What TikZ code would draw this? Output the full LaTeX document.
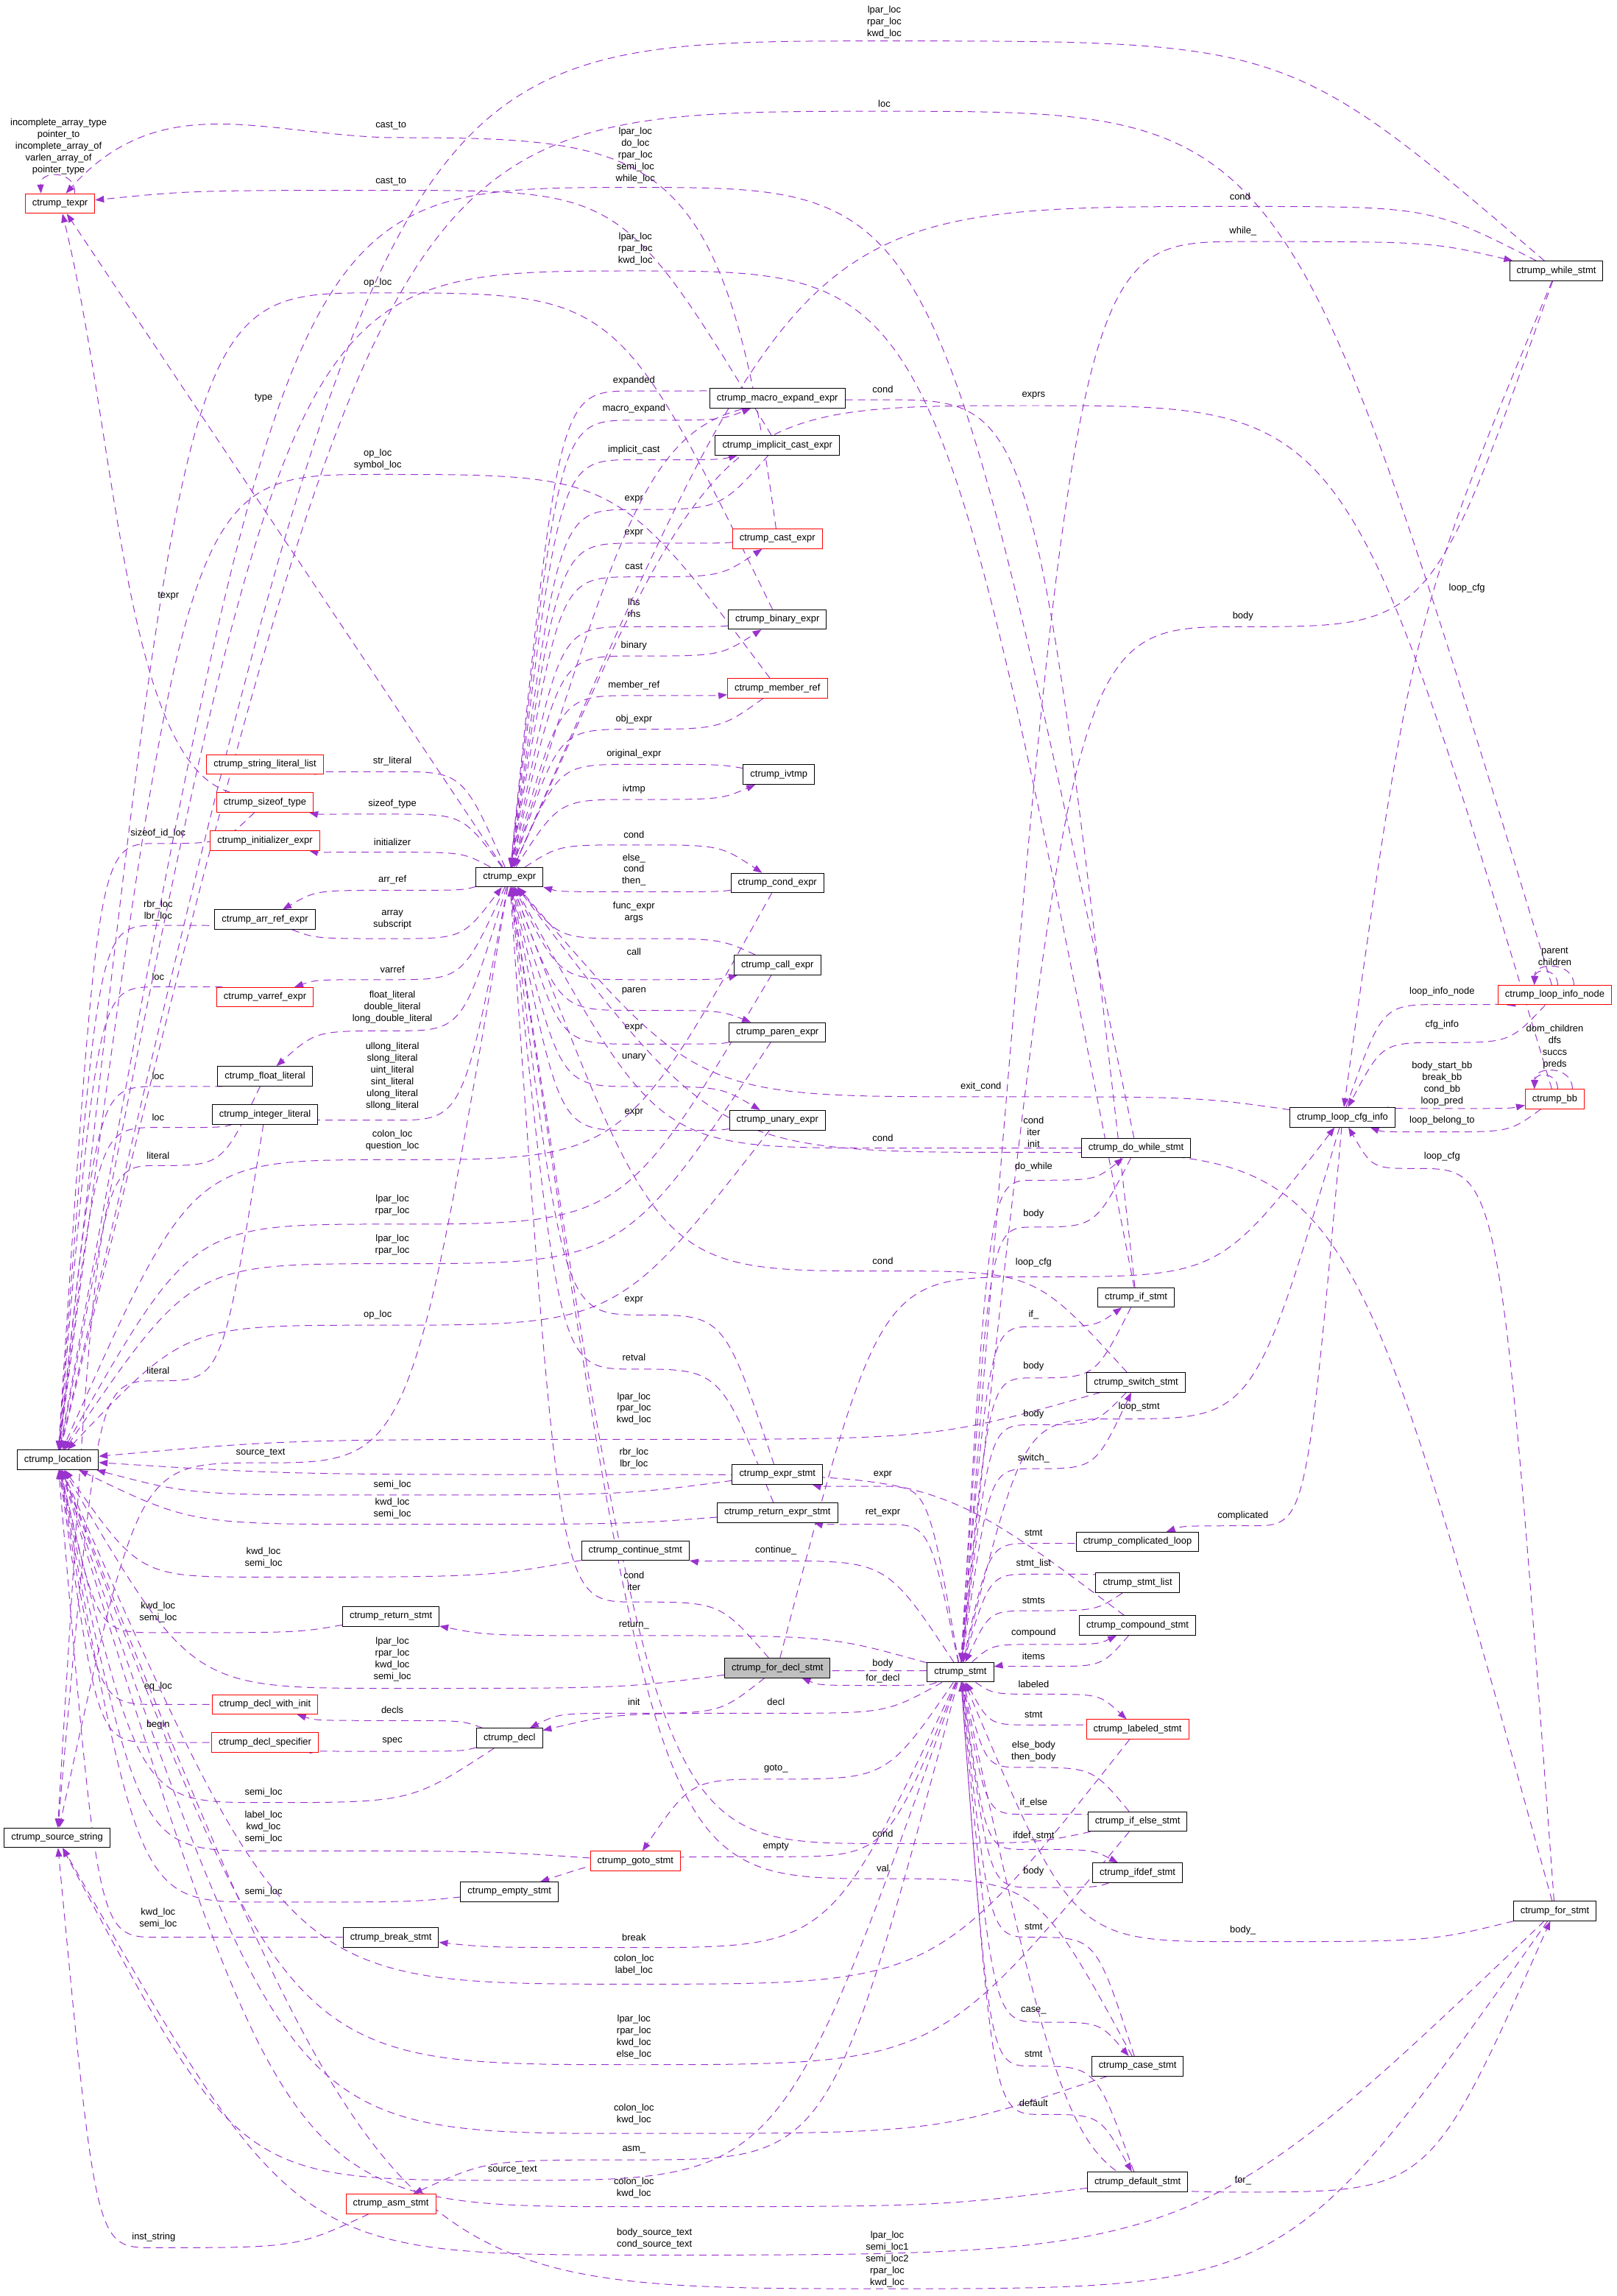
\documentclass[tikz,border=0pt]{standalone}
\usepackage{fontspec}
\setmainfont{Liberation Sans}
\usetikzlibrary{arrows.meta,calc,backgrounds}
\definecolor{edgepurple}{RGB}{154,50,205}
\tikzset{
  cls/.style={draw=black, fill=white, line width=0.5pt, font=\fontsize{6.5}{8}\selectfont,
    inner xsep=4.8pt, inner ysep=0pt, minimum height=13.4pt},
  redcls/.style={cls, draw=red},
  lbl/.style={font=\fontsize{6.5}{8}\selectfont, align=center, inner sep=0pt},
  link/.style={draw=edgepurple, line width=0.5pt, dash pattern=on 5pt off 3.5pt,
    -{Triangle[length=6pt,width=4.5pt]}}
}
\begin{document}
\begin{tikzpicture}[x=1pt, y=-1pt]
  \useasboundingbox (0,0) rectangle (1104,1568);

  % left column
  \node[redcls] (texpr) at (41,139) {ctrump\_texpr};
  \node[cls] (location) at (39.5,997) {ctrump\_location};
  \node[cls] (source) at (39,1255) {ctrump\_source\_string};
  \node[redcls] (strlit) at (181,522) {ctrump\_string\_literal\_list};
  \node[redcls] (sizeof) at (181,548) {ctrump\_sizeof\_type};
  \node[redcls] (initexpr) at (181,574) {ctrump\_initializer\_expr};
  \node[cls] (arrref) at (181,628) {ctrump\_arr\_ref\_expr};
  \node[redcls] (varref) at (181,681) {ctrump\_varref\_expr};
  \node[cls] (floatlit) at (181,735) {ctrump\_float\_literal};
  \node[cls] (intlit) at (181,761) {ctrump\_integer\_literal};
  \node[cls] (return) at (267,1104) {ctrump\_return\_stmt};
  \node[redcls] (declinit) at (181,1164) {ctrump\_decl\_with\_init};
  \node[redcls] (declspec) at (181,1190) {ctrump\_decl\_specifier};
  \node[cls] (break) at (267,1323) {ctrump\_break\_stmt};
  \node[redcls] (asm) at (267,1505) {ctrump\_asm\_stmt};

  % middle columns
  \node[cls] (expr) at (348,599) {ctrump\_expr};
  \node[cls] (decl) at (348,1187) {ctrump\_decl};
  \node[cls] (empty) at (348,1292) {ctrump\_empty\_stmt};
  \node[cls] (continue) at (434,1059) {ctrump\_continue\_stmt};
  \node[redcls] (goto) at (434,1271) {ctrump\_goto\_stmt};
  \node[cls] (macro) at (531,272) {ctrump\_macro\_expand\_expr};
  \node[cls] (implicit) at (531,304) {ctrump\_implicit\_cast\_expr};
  \node[redcls] (cast) at (531,368) {ctrump\_cast\_expr};
  \node[cls] (binary) at (531,423) {ctrump\_binary\_expr};
  \node[redcls] (member) at (531,470) {ctrump\_member\_ref};
  \node[cls] (ivtmp) at (532,529) {ctrump\_ivtmp};
  \node[cls] (condexpr) at (531,603) {ctrump\_cond\_expr};
  \node[cls] (call) at (531,659) {ctrump\_call\_expr};
  \node[cls] (paren) at (531,705) {ctrump\_paren\_expr};
  \node[cls] (unary) at (531,765) {ctrump\_unary\_expr};
  \node[cls] (exprstmt) at (531,1007) {ctrump\_expr\_stmt};
  \node[cls] (retexpr) at (531,1033) {ctrump\_return\_expr\_stmt};
  \node[cls, fill=black!25] (fordecl) at (531,1139) {ctrump\_for\_decl\_stmt};
  \node[cls] (stmt) at (656,1142) {ctrump\_stmt};

  % right columns
  \node[cls] (dowhile) at (776,784) {ctrump\_do\_while\_stmt};
  \node[cls] (ifstmt) at (776,886) {ctrump\_if\_stmt};
  \node[cls] (switch) at (776,944) {ctrump\_switch\_stmt};
  \node[cls] (complicated) at (777,1053) {ctrump\_complicated\_loop};
  \node[cls] (stmtlist) at (777,1081) {ctrump\_stmt\_list};
  \node[cls] (compound) at (777,1110) {ctrump\_compound\_stmt};
  \node[redcls] (labeled) at (777,1181) {ctrump\_labeled\_stmt};
  \node[cls] (ifelse) at (777,1244) {ctrump\_if\_else\_stmt};
  \node[cls] (ifdef) at (777,1279) {ctrump\_ifdef\_stmt};
  \node[cls] (case) at (777,1411) {ctrump\_case\_stmt};
  \node[cls] (default) at (777,1490) {ctrump\_default\_stmt};
  \node[cls] (loopcfg) at (917,763) {ctrump\_loop\_cfg\_info};
  \node[cls] (while) at (1063,185) {ctrump\_while\_stmt};
  \node[redcls] (loopinfo) at (1062,679.5) {ctrump\_loop\_info\_node};
  \node[redcls] (bb) at (1062,750.5) {ctrump\_bb};
  \node[cls] (for) at (1062,1305) {ctrump\_for\_stmt};

  \begin{pgfonlayer}{background}
    % edges: source/target/bend point/label position/label
    \foreach \src/\dst/\vx/\vy/\lx/\ly/\txt in {
      expr/macro/433/287/433/279/macro\_expand,
      macro/expr/433/267/433/260/expanded,
      expr/implicit/433/314/433/307/implicit\_cast,
      implicit/expr/433/348/433/341/expr,
      cast/expr/433/371/433/364/expr,
      expr/cast/433/394/433/387/cast,
      binary/expr/433/428/433/415/{lhs\\rhs},
      expr/binary/433/448/433/441/binary,
      expr/member/433/475/433/468/member\_ref,
      member/expr/433/498/433/491/obj\_expr,
      ivtmp/expr/433/522/433/515/original\_expr,
      expr/ivtmp/433/546/433/539/ivtmp,
      expr/condexpr/433/577/433/570/cond,
      condexpr/expr/433/609/433/594/{else\_\\cond\\then\_},
      call/expr/433/641/433/623/{func\_expr\\args},
      expr/call/433/669/433/650/call,
      expr/paren/433/690/433/677/paren,
      paren/expr/433/713/433/702/expr,
      expr/unary/433/742/433/722/unary,
      unary/expr/433/772/433/760/expr,
      expr/strlit/268/527/268/520/str\_literal,
      expr/sizeof/268/556/268/549/sizeof\_type,
      expr/initexpr/268/582/268/575/initializer,
      expr/arrref/268/608/268/601/arr\_ref,
      arrref/expr/268/641/268/628/{array\\subscript},
      expr/varref/268/669/268/662/varref,
      expr/floatlit/268/704/268/688/{float\_literal\\double\_literal\\long\_double\_literal},
      expr/intlit/268/765/268/735/{ullong\_literal\\slong\_literal\\uint\_literal\\sint\_literal\\ulong\_literal\\sllong\_literal},
      implicit/texpr/267/130/267/124/cast\_to,
      binary/location/258/200/258/193/op\_loc,
      member/location/258/324/258/314/{op\_loc\\symbol\_loc},
      sizeof/location/108/576/108/569/sizeof\_id\_loc,
      arrref/location/108/632/108/622/{rbr\_loc\\lbr\_loc},
      varref/location/108/674/108/667/loc,
      floatlit/location/108/742/108/735/loc,
      intlit/location/108/770/108/763/loc,
      condexpr/location/268/792/268/779/{colon\_loc\\question\_loc},
      call/location/268/836/268/823/{lpar\_loc\\rpar\_loc},
      paren/location/268/863/268/850/{lpar\_loc\\rpar\_loc},
      unary/location/258/905/258/898/op\_loc,
      switch/location/433/983/433/962/{lpar\_loc\\rpar\_loc\\kwd\_loc},
      compound/location/433/1007/433/996/{rbr\_loc\\lbr\_loc},
      exprstmt/location/268/1021/268/1014/semi\_loc,
      retexpr/location/268/1041/268/1030/{kwd\_loc\\semi\_loc},
      continue/location/180/1077/180/1064/{kwd\_loc\\semi\_loc},
      return/location/108/1115/108/1101/{kwd\_loc\\semi\_loc},
      fordecl/location/268/1153/268/1133/{lpar\_loc\\rpar\_loc\\kwd\_loc\\semi\_loc},
      declinit/location/108/1164/108/1152/eq\_loc,
      declspec/location/108/1190/108/1178/begin,
      decl/location/180/1231/180/1224/semi\_loc,
      goto/location/180/1264/180/1248/{label\_loc\\kwd\_loc\\semi\_loc},
      empty/location/180/1299/180/1292/semi\_loc,
      break/location/108/1323/108/1310/{kwd\_loc\\semi\_loc},
      labeled/location/433/1355/433/1342/{colon\_loc\\label\_loc},
      ifelse/location/433/1410/433/1391/{lpar\_loc\\rpar\_loc\\kwd\_loc\\else\_loc},
      case/location/433/1457/433/1444/{colon\_loc\\kwd\_loc},
      default/location/433/1507/433/1494/{colon\_loc\\kwd\_loc},
      for/location/606/1563/606/1543/{lpar\_loc\\semi\_loc1\\semi\_loc2\\rpar\_loc\\kwd\_loc},
      dowhile/location/434/128/434/106/{lpar\_loc\\do\_loc\\rpar\_loc\\semi\_loc\\while\_loc},
      ifstmt/location/434/185/434/170/{lpar\_loc\\rpar\_loc\\kwd\_loc},
      while/location/604/28/604/15/{lpar\_loc\\rpar\_loc\\kwd\_loc},
      loopinfo/location/604/76/604/71/loc,
      expr/source/178/999/178/992/source\_text,
      floatlit/source/108/796/108/789/literal,
      intlit/source/108/943/108/936/literal,
      stmt/source/350/1489/350/1482/source\_text,
      asm/source/105/1535/105/1528/inst\_string,
      for/source/447/1540/447/1529/{body\_source\_text\\cond\_source\_text},
      stmt/while/849/165/849/158/while\_,
      while/stmt/849/428/849/421/body,
      while/expr/847/141/847/134/cond,
      loopcfg/loopinfo/985/686/985/677/loop\_info\_node,
      loopinfo/loopcfg/985/712/985/700/cfg\_info,
      loopcfg/bb/985/757/985/740/{body\_start\_bb\\break\_bb\\cond\_bb\\loop\_pred},
      bb/loopcfg/985/773/985/765/loop\_belong\_to,
      for/loopcfg/968/798/985/790/loop\_cfg,
      loopcfg/expr/670/749/670/742/exit\_cond,
      loopcfg/complicated/855/1042/849/1035/complicated,
      loopcfg/stmt/765/969/778/961/loop\_stmt,
      bb/expr/706/277/706/270/exprs,
      dowhile/expr/603/784/603/777/cond,
      stmt/dowhile/706/806/706/797/do\_while,
      dowhile/stmt/706/838/706/829/body,
      fordecl/loopcfg/706/872/706/862/loop\_cfg,
      for/expr/706/787/706/773/{cond\\iter\\init},
      ifstmt/expr/603/273/603/266/cond,
      stmt/ifstmt/706/906/706/898/if\_,
      ifstmt/stmt/706/941/706/933/body,
      switch/expr/603/868/603/861/cond,
      stmt/switch/706/1003/706/996/switch\_,
      switch/stmt/706/973/706/966/body,
      complicated/stmt/706/1054/706/1047/stmt,
      stmt/stmtlist/706/1075/706/1068/stmt\_list,
      stmtlist/stmt/706/1100/706/1093/stmts,
      stmt/compound/710/1123/706/1115/compound,
      compound/stmt/716/1138/706/1131/items,
      stmt/labeled/712/1157/706/1150/labeled,
      labeled/stmt/706/1178/706/1171/stmt,
      ifelse/stmt/700/1207/706/1196/{else\_body\\then\_body},
      stmt/ifelse/700/1239/706/1231/if\_else,
      stmt/ifdef/700/1263/706/1254/ifdef\_stmt,
      ifdef/stmt/706/1289/706/1278/body,
      case/stmt/706/1323/706/1316/stmt,
      stmt/case/712/1381/706/1373/case\_,
      default/stmt/706/1411/706/1403/stmt,
      stmt/default/712/1444/706/1436/default,
      stmt/for/849/1497/849/1489/for\_,
      for/stmt/849/1326/849/1318/body\_,
      stmt/exprstmt/600/1015/603/1007/expr,
      exprstmt/expr/440/898/433/888/expr,
      stmt/retexpr/603/1041/603/1033/ret\_expr,
      retexpr/expr/433/935/433/927/retval,
      stmt/continue/530/1066/530/1059/continue\_,
      fordecl/expr/433/1094/433/1080/{cond\\iter},
      stmt/return/433/1117/433/1110/return\_,
      fordecl/stmt/603/1141/603/1136/body,
      stmt/fordecl/603/1151/603/1146/for\_decl,
      fordecl/decl/433/1170/433/1162/init,
      stmt/decl/530/1170/530/1162/decl,
      decl/declinit/268/1175/268/1168/decls,
      decl/declspec/268/1196/268/1189/spec,
      stmt/goto/530/1215/530/1208/goto\_,
      stmt/empty/530/1268/530/1261/empty,
      ifelse/expr/603/1259/603/1252/cond,
      case/expr/603/1283/603/1276/val,
      stmt/break/433/1330/433/1323/break,
      stmt/asm/433/1475/433/1468/asm\_}{
      \coordinate (v) at (\vx,\vy);
      \draw[link] (\src) .. controls ($(v)!0.6!(v -| \src)$) .. (v)
        .. controls ($(v)!0.6!(v -| \dst)$) .. (\dst);
      \node[lbl] (l-\src-\dst) at (\lx,\ly) {\txt};
    }

    % edges that run mostly up and down
    \draw[link] (expr) -- (texpr);
    \node[lbl] (l-expr-texpr) at (180,272) {type};
    \draw[link] (sizeof) .. controls (85,520) and (80,300) .. (texpr);
    \node[lbl] (l-sizeof-texpr) at (115,407) {texpr};
    \draw[link] (cast) .. controls (495,100) and (450,94) .. (267,94)
      .. controls (180,92) and (110,60) .. (texpr.60);
    \node[lbl] (l-cast-texpr) at (267,86) {cast\_to};
    \draw[link] (while) .. controls (965,420) .. (loopcfg);
    \node[lbl] (l-while-loopcfg) at (1002,402) {loop\_cfg};

    % self loops
    \draw[link] ([xshift=10pt]texpr.north) .. controls +(1,-16) and +(-1,-16) .. ([xshift=-13pt]texpr.north);
    \node[lbl] (l-texpr) at (40,100) {incomplete\_array\_type\\pointer\_to\\incomplete\_array\_of\\varlen\_array\_of\\pointer\_type};
    \draw[link] ([xshift=13pt]loopinfo.north) .. controls +(0,-16) and +(0,-16) .. ([xshift=-14pt]loopinfo.north);
    \draw[link] ([xshift=2pt]loopinfo.north) .. controls +(0,-11) and +(1,-12) .. ([xshift=-14pt]loopinfo.north);
    \node[lbl] (l-loopinfo) at (1062,653) {parent\\children};
    \draw[link] ([xshift=12pt]bb.north) .. controls +(0,-16) and +(0,-16) .. ([xshift=-14pt]bb.north);
    \draw[link] ([xshift=2pt]bb.north) .. controls +(0,-11) and +(1,-12) .. ([xshift=-14pt]bb.north);
    \node[lbl] (l-bb) at (1062,715) {dom\_children\\dfs\\succs\\preds};
  \end{pgfonlayer}
\end{tikzpicture}
\end{document}
